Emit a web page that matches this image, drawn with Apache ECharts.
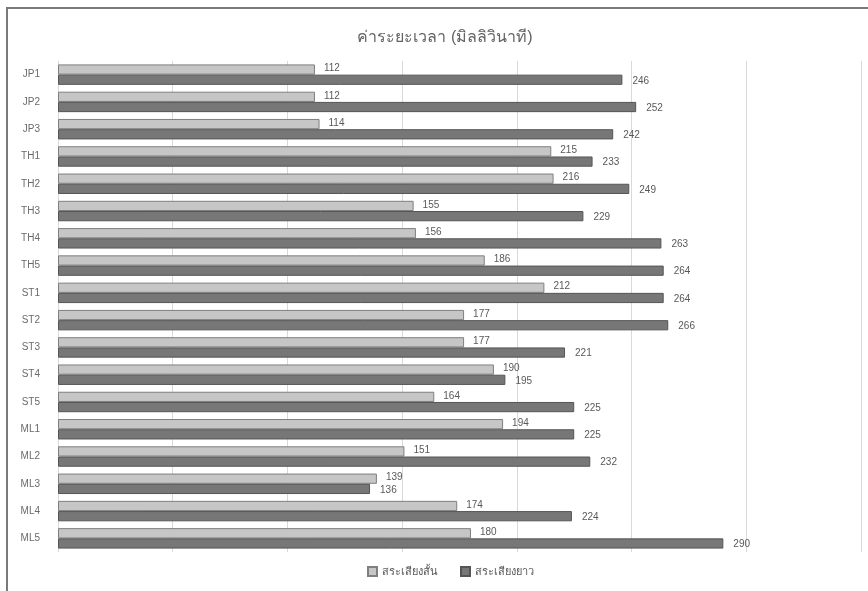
<!DOCTYPE html>
<html>
<head>
<meta charset="utf-8">
<script src="https://cdn.jsdelivr.net/npm/echarts@6/dist/echarts.min.js"></script>
<style>
  html, body { margin: 0; padding: 0; background: #ffffff; }
  #chart { width: 868px; height: 591px; }
</style>
</head>
<body>
<div id="chart"></div>
<script>
// Syllable groups, top to bottom
const categories = ['JP1','JP2','JP3','TH1','TH2','TH3','TH4','TH5','ST1','ST2','ST3','ST4','ST5','ML1','ML2','ML3','ML4','ML5'];
// Duration in milliseconds
const shortVowel = [112,112,114,215,216,155,156,186,212,177,177,190,164,194,151,139,174,180];
const longVowel  = [246,252,242,233,249,229,263,264,264,266,221,195,225,225,232,136,224,290];
const seriesNames = ['สระเสียงสั้น', 'สระเสียงยาว'];
const chartTitle = 'ค่าระยะเวลา (มิลลิวินาที)';

const FONT = '"Liberation Sans", "Noto Sans", "DejaVu Sans", sans-serif';
const TEXT = '#595959';

const chart = echarts.init(document.getElementById('chart'), null, { renderer: 'canvas' });

chart.setOption({
  animation: false,
  backgroundColor: '#ffffff',
  title: {
    text: chartTitle,
    left: 440,
    top: 25,
    textAlign: 'center',
    textStyle: { fontFamily: FONT, fontSize: 16, fontWeight: 'normal', color: '#636363' }
  },
  legend: {
    bottom: 9,
    left: 362,
    itemWidth: 9,
    itemHeight: 9,
    itemGap: 22,
    icon: 'rect',
    textStyle: { fontFamily: FONT, fontSize: 11, color: TEXT },
    data: seriesNames
  },
  graphic: [{
    type: 'rect',
    shape: { x: 7, y: 8, width: 900, height: 620 },
    style: { fill: 'none', stroke: '#7a7a7a', lineWidth: 2 },
    silent: true
  }],
  grid: { left: 58, right: 7, top: 61, bottom: 39, containLabel: false },
  xAxis: {
    type: 'value',
    min: 0,
    max: 350,
    interval: 50,
    axisLine: { show: false },
    axisTick: { show: false },
    axisLabel: { show: false },
    splitLine: { show: true, lineStyle: { color: '#d9d9d9', width: 1 } }
  },
  yAxis: {
    type: 'category',
    data: categories,
    inverse: true,
    axisLine: { show: false },
    axisTick: { show: false },
    axisLabel: { fontFamily: FONT, fontSize: 10, color: '#6a6a6a', margin: 18 }
  },
  series: [
    {
      name: seriesNames[0],
      type: 'bar',
      data: shortVowel,
      barGap: '0%',
      barCategoryGap: '25%',
      itemStyle: { color: '#c6c6c6', borderColor: '#7f7f7f', borderWidth: 1 },
      label: {
        show: true, position: 'right', distance: 9, offset: [0, -1],
        fontFamily: FONT, fontSize: 10, color: TEXT
      }
    },
    {
      name: seriesNames[1],
      type: 'bar',
      data: longVowel,
      barGap: '0%',
      barCategoryGap: '25%',
      itemStyle: { color: '#777777', borderColor: '#555555', borderWidth: 1 },
      label: {
        show: true, position: 'right', distance: 10, offset: [0, 1],
        fontFamily: FONT, fontSize: 10, color: TEXT
      }
    }
  ]
});
</script>
</body>
</html>
